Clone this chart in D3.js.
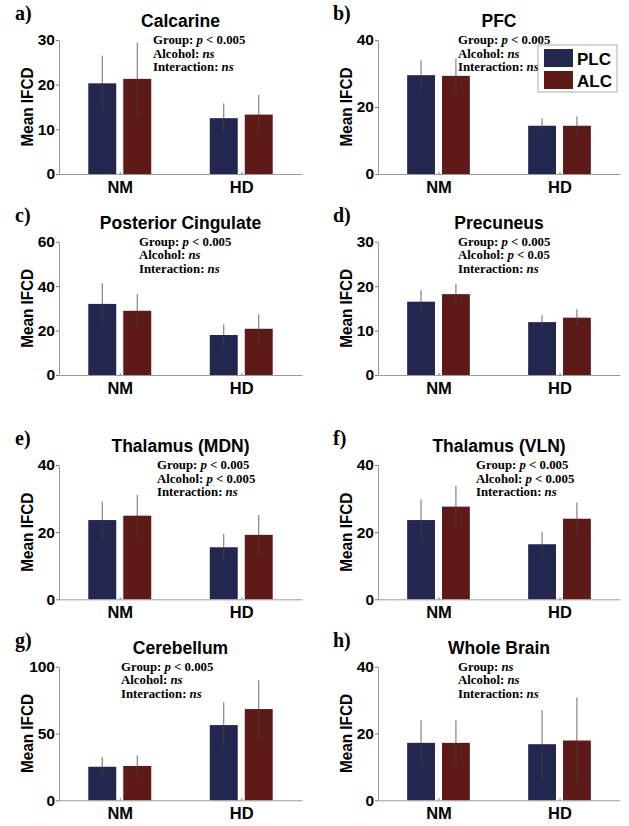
<!DOCTYPE html>
<html>
<head>
<meta charset="utf-8">
<script src="https://cdn.jsdelivr.net/npm/d3@7"></script>
<style>
body { margin: 0; background: #fff; }
</style>
</head>
<body>
<script>
// Data
var categories = ['NM', 'HD'];
var seriesNames = ['PLC', 'ALC'];
var panelLetters = ['a)', 'b)', 'c)', 'd)', 'e)', 'f)', 'g)', 'h)'];
var regions = ['Calcarine', 'PFC', 'Posterior Cingulate', 'Precuneus',
    'Thalamus (MDN)', 'Thalamus (VLN)', 'Cerebellum', 'Whole Brain'];
var yMax = [30, 40, 60, 30, 40, 40, 100, 40];
var yTicks = [
    [0, 10, 20, 30],
    [0, 20, 40],
    [0, 20, 40, 60],
    [0, 10, 20, 30],
    [0, 20, 40],
    [0, 20, 40],
    [0, 50, 100],
    [0, 20, 40]
];
// mean IFCD, [NM, HD]
var plcMean = [[20.3, 12.5], [29.5, 14.4], [32.0, 18.0], [16.5, 11.9], [23.6, 15.5], [23.6, 16.4], [25.1, 56.3], [17.2, 16.8]];
var alcMean = [[21.3, 13.3], [29.3, 14.4], [28.9, 20.8], [18.2, 12.9], [24.9, 19.2], [27.6, 24.0], [25.7, 68.3], [17.2, 17.9]];
var plcErr = [[6.2, 3.3], [4.4, 2.2], [9.3, 4.8], [2.6, 1.6], [5.5, 4.0], [6.2, 3.6], [7.3, 17.0], [6.8, 10.2]];
var alcErr = [[8.1, 4.4], [5.2, 2.8], [7.6, 6.5], [2.3, 1.9], [6.2, 5.9], [6.2, 4.8], [8.0, 21.5], [6.8, 12.9]];
var stats = [
    ['Group: *p* < 0.005', 'Alcohol: *ns*', 'Interaction: *ns*'],
    ['Group: *p* < 0.005', 'Alcohol: *ns*', 'Interaction: *ns*'],
    ['Group: *p* < 0.005', 'Alcohol: *ns*', 'Interaction: *ns*'],
    ['Group: *p* < 0.005', 'Alcohol: *p* < 0.05', 'Interaction: *ns*'],
    ['Group: *p* < 0.005', 'Alcohol: *p* < 0.005', 'Interaction: *ns*'],
    ['Group: *p* < 0.005', 'Alcohol: *p* < 0.005', 'Interaction: *ns*'],
    ['Group: *p* < 0.005', 'Alcohol: *ns*', 'Interaction: *ns*'],
    ['Group: *ns*', 'Alcohol: *ns*', 'Interaction: *ns*']
];

// Layout
var width = 629;
var height = 826;
var colLeft = [59, 378];
var colRight = [302, 620];
var rowTop = [40, 241.7, 465, 666.7];
var rowBase = [174, 375, 599.3, 800.3];
var letterX = [15, 333];
var noteX = [153, 458, 139, 458, 157, 476, 121, 458];
var colors = ['#23264f', '#5d1a18'];
var barOffset = 0.144;
var barWidth = 0.23;
var sans = 'Liberation Sans, Arial, sans-serif';
var serif = 'Liberation Serif, Times New Roman, serif';

var svg = d3.select('body')
    .append('svg')
    .attr('width', width)
    .attr('height', height);

for (var i = 0; i < 8; i++) {
    drawPanel(i);
}
drawLegend();

function drawPanel(i) {
    var col = i % 2;
    var row = Math.floor(i / 2);
    var x0 = colLeft[col], x1 = colRight[col];
    var top = rowTop[row], base = rowBase[row];

    var x = d3.scaleLinear().domain([0.5, 2.5]).range([x0, x1]);
    var y = d3.scaleLinear().domain([0, yMax[i]]).range([base, top]);
    var g = svg.append('g');

    // bars
    var series = [plcMean[i], alcMean[i]];
    var errs = [plcErr[i], alcErr[i]];
    series.forEach(function(vals, s) {
        var off = s === 0 ? -barOffset : barOffset;
        vals.forEach(function(v, c) {
            var cx = c + 1 + off;
            g.append('rect')
                .attr('x', x(cx - barWidth / 2))
                .attr('y', y(v))
                .attr('width', x(cx + barWidth / 2) - x(cx - barWidth / 2))
                .attr('height', y(0) - y(v))
                .attr('fill', colors[s]);
            var e = errs[s][c];
            g.append('line')
                .attr('x1', x(cx)).attr('x2', x(cx))
                .attr('y1', y(v - e)).attr('y2', y(v + e))
                .attr('stroke', '#444')
                .attr('stroke-width', 0.8);
        });
    });

    // axes
    var yAxis = d3.axisLeft(y).tickValues(yTicks[i]).tickSizeInner(3).tickSizeOuter(0).tickPadding(1);
    var gy = g.append('g').attr('transform', 'translate(' + x0 + ',0)').call(yAxis);
    var xAxis = d3.axisBottom(x).tickValues([1, 2])
        .tickFormat(function(d) { return categories[d - 1]; })
        .tickSizeInner(-2).tickSizeOuter(0);
    var gx = g.append('g').attr('transform', 'translate(0,' + base + ')').call(xAxis);

    [gx, gy].forEach(function(ax) {
        ax.select('.domain').attr('stroke', '#9a9a9a');
        ax.selectAll('.tick line').attr('stroke', '#777');
        ax.selectAll('.tick text')
            .attr('fill', '#000')
            .style('font-family', sans)
            .style('font-weight', 'bold');
    });
    gy.selectAll('.tick text').style('font-size', '15.5px');
    gx.selectAll('.tick text').style('font-size', '16.5px').attr('y', 7);

    // y label
    g.append('text')
        .attr('transform', 'translate(' + (x0 - 26) + ',' + ((top + base) / 2) + ') rotate(-90)')
        .attr('text-anchor', 'middle')
        .attr('textLength', 79)
        .attr('lengthAdjust', 'spacingAndGlyphs')
        .style('font-family', sans)
        .style('font-weight', 'bold')
        .style('font-size', '17px')
        .text('Mean IFCD');

    // title
    g.append('text')
        .attr('x', (x0 + x1) / 2)
        .attr('y', top - 13)
        .attr('text-anchor', 'middle')
        .style('font-family', sans)
        .style('font-weight', 'bold')
        .style('font-size', '17.5px')
        .text(regions[i]);

    // panel letter
    g.append('text')
        .attr('x', letterX[col])
        .attr('y', top - 20)
        .style('font-family', serif)
        .style('font-weight', 'bold')
        .style('font-size', '20px')
        .text(panelLetters[i]);

    // stats note
    stats[i].forEach(function(line, k) {
        var t = g.append('text')
            .attr('x', noteX[i])
            .attr('y', top + 4 + k * 13.5)
            .style('font-family', serif)
            .style('font-weight', 'bold')
            .style('font-size', '12.8px');
        line.split('*').forEach(function(part, p) {
            if (part === '') return;
            t.append('tspan')
                .style('font-style', p % 2 === 1 ? 'italic' : 'normal')
                .text(part);
        });
    });
}

function drawLegend() {
    var lx = 538, ly = 45;
    var lg = svg.append('g');
    lg.append('rect')
        .attr('x', lx).attr('y', ly)
        .attr('width', 79).attr('height', 47)
        .attr('fill', '#fff')
        .attr('stroke', '#999')
        .attr('stroke-width', 0.8);
    seriesNames.forEach(function(name, s) {
        lg.append('rect')
            .attr('x', lx + 6).attr('y', ly + 4 + s * 22)
            .attr('width', 29).attr('height', 18)
            .attr('fill', colors[s]);
        lg.append('text')
            .attr('x', lx + 39).attr('y', ly + 19.5 + s * 22)
            .style('font-family', sans)
            .style('font-weight', 'bold')
            .style('font-size', '17px')
            .text(name);
    });
}
</script>
</body>
</html>
